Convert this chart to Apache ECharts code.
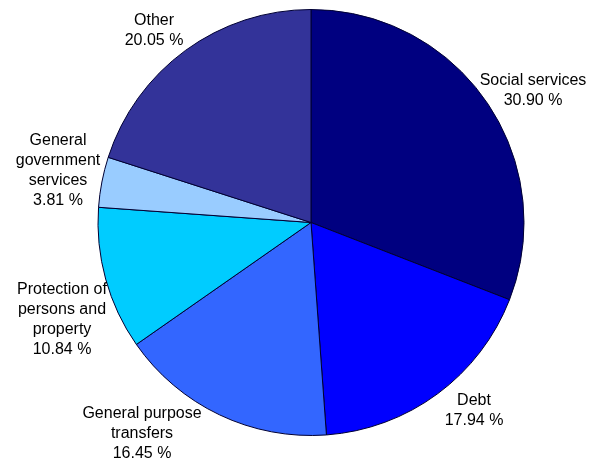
<!DOCTYPE html>
<html>
<head>
<meta charset="utf-8">
<script src="https://cdn.jsdelivr.net/npm/echarts@6/dist/echarts.min.js"></script>
<style>
  html, body { margin: 0; padding: 0; background: #fff; }
  #chart { width: 597px; height: 461px; }
</style>
</head>
<body>
<div id="chart"></div>
<script>
// Expenditure shares by function (percent)
const categories = [
  'Social services',
  'Debt',
  'General purpose\ntransfers',
  'Protection of\npersons and\nproperty',
  'General\ngovernment\nservices',
  'Other'
];
const shares = [30.90, 17.94, 16.45, 10.84, 3.81, 20.05];
const sliceColors = ['#000080', '#0000FF', '#3366FF', '#00CCFF', '#99CCFF', '#333399'];

// Label centres, as offsets from the pie centre (px)
const labelOffsets = [
  [222, -132], [163, 188], [-169, 211], [-249, 97], [-253, -52], [-157, -192]
];

const cx = 311, cy = 222.5, radius = 213;

const chart = echarts.init(document.getElementById('chart'), null, { renderer: 'canvas' });
chart.setOption({
  animation: false,
  backgroundColor: '#ffffff',
  series: [{
    type: 'pie',
    center: [cx, cy],
    radius: radius,
    startAngle: 90,
    clockwise: true,
    avoidLabelOverlap: false,
    data: categories.map((name, i) => ({
      name: name,
      value: shares[i],
      itemStyle: { color: sliceColors[i] }
    })),
    itemStyle: { borderColor: '#000033', borderWidth: 1 },
    label: {
      show: true,
      position: 'outside',
      formatter: p => p.name + '\n' + p.value.toFixed(2) + ' %',
      fontFamily: 'Liberation Sans, Arial, sans-serif',
      fontSize: 16,
      lineHeight: 20,
      color: '#000',
      align: 'center'
    },
    labelLine: { show: false },
    labelLayout: function (params) {
      const o = labelOffsets[params.dataIndex];
      return { x: cx + o[0], y: cy + o[1], align: 'center', verticalAlign: 'middle' };
    },
    emphasis: { disabled: true }
  }]
});
</script>
</body>
</html>
